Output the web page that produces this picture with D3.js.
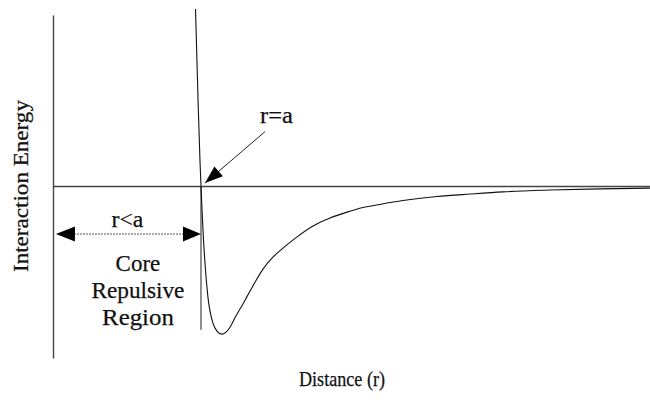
<!DOCTYPE html>
<html>
<head>
<meta charset="utf-8">
<script src="https://cdn.jsdelivr.net/npm/d3@7"></script>
<style>
  html, body { margin: 0; padding: 0; background: #fff; }
  svg { display: block; }
  svg text { font-family: "Liberation Serif", "Times New Roman", Times, serif !important; }
</style>
</head>
<body>
<svg id="chart" width="650" height="402"></svg>
<script>
// Distance r (in units of a) and interaction energy (in units of well depth)
const distance = [0.963, 0.980, 0.993, 1.000, 1.007, 1.017, 1.027, 1.047, 1.081, 1.108, 1.140,
  1.169, 1.196, 1.236, 1.275, 1.309, 1.365, 1.419, 1.486, 1.554, 1.647, 1.757, 1.872, 1.986,
  2.095, 2.209, 2.365, 2.595, 2.818, 3.041, 3.358, 3.696, 4.034];
const energy = [1.196, 0.581, 0.176, 0.000, -0.162, -0.365, -0.520, -0.750, -0.926, -0.980, -1.000,
  -0.986, -0.953, -0.878, -0.811, -0.750, -0.649, -0.561, -0.480, -0.419, -0.345, -0.270, -0.216, -0.176,
  -0.145, -0.124, -0.098, -0.071, -0.054, -0.039, -0.027, -0.019, -0.014];
const coreRadius = 1.0;       // r = a
const coreLabels = ["Core", "Repulsive", "Region"];
const xTitle = "Distance (r)";
const yTitle = "Interaction Energy";

const FONT = "Liberation Serif";
const svg = d3.select("#chart");
const x = d3.scaleLinear().domain([0, 4.034]).range([53, 650]);
const y = d3.scaleLinear().domain([-1.161, 1.155]).range([358, 15]);

// Left axis (no ticks)
const ya = svg.append("g").attr("transform", `translate(${x(0)},0)`)
  .call(d3.axisLeft(y).ticks(0).tickSizeOuter(0));
ya.select(".domain").attr("stroke", "#444").attr("stroke-width", 1.4);

// Zero line (no ticks)
const xa = svg.append("g").attr("transform", `translate(0,${y(0)})`)
  .call(d3.axisBottom(x).ticks(0).tickSizeOuter(0));
xa.select(".domain").attr("stroke", "#444").attr("stroke-width", 1.4);

// r = a vertical line
svg.append("line")
  .attr("x1", x(coreRadius)).attr("x2", x(coreRadius))
  .attr("y1", y(0)).attr("y2", y(-0.97))
  .attr("stroke", "#444").attr("stroke-width", 1.2);

// Potential curve
const pts = distance.map((d, i) => [d, energy[i]]);
svg.append("path")
  .datum(pts)
  .attr("fill", "none")
  .attr("stroke", "#111")
  .attr("stroke-width", 1.1)
  .attr("d", d3.line().x(d => x(d[0])).y(d => y(d[1])).curve(d3.curveMonotoneX));

// Arrowhead helper
function arrowHead(tx, ty, fx, fy, len, half) {
  const dx = tx - fx, dy = ty - fy, L = Math.hypot(dx, dy);
  const ux = dx / L, uy = dy / L;
  const bx = tx - ux * len, by = ty - uy * len;
  const px = -uy, py = ux;
  svg.append("path")
    .attr("d", `M${tx},${ty}L${bx + px * half},${by + py * half}L${bx - px * half},${by - py * half}Z`)
    .attr("fill", "#000");
}

function label(xp, yp, txt, size, len) {
  return svg.append("text").attr("x", xp).attr("y", yp)
    .attr("text-anchor", "middle")
    .attr("font-family", FONT).attr("font-size", size)
    .attr("fill", "#111").attr("stroke", "#111").attr("stroke-width", 0.25)
    .attr("textLength", len).attr("lengthAdjust", "spacingAndGlyphs").text(txt);
}

// r=a annotation
const aTip = [x(1.027), y(0.02)], aTail = [x(1.432), y(0.367)];
svg.append("line").attr("x1", aTail[0]).attr("y1", aTail[1])
  .attr("x2", aTip[0]).attr("y2", aTip[1]).attr("stroke", "#222").attr("stroke-width", 1);
arrowHead(aTip[0], aTip[1], aTail[0], aTail[1], 18, 6.5);
label(x(1.51), y(0.428), "r=a", 23, 33);

// r<a double arrow
const yArr = y(-0.324);
svg.append("line").attr("x1", x(0.02) + 15).attr("x2", x(coreRadius) - 15)
  .attr("y1", yArr).attr("y2", yArr)
  .attr("stroke", "#555").attr("stroke-width", 1).attr("stroke-dasharray", "2,1");
arrowHead(x(0.02), yArr, x(coreRadius), yArr, 19, 7.5);
arrowHead(x(coreRadius), yArr, x(0.02), yArr, 18, 7.5);
label(x(0.503), y(-0.275), "r<a", 23, 32);

// Core Repulsive Region
const coreBase = [-0.576, -0.757, -0.937];
const coreW = [44.7, 93, 71.7];
coreLabels.forEach((t, i) => label(x(0.574), y(coreBase[i]), t, 24, coreW[i]));

// Axis titles
label(342, 386, xTitle, 21, 86);
svg.append("text").attr("transform", `translate(28,${y(0)}) rotate(-90)`)
  .attr("text-anchor", "middle")
  .attr("font-family", FONT).attr("font-size", 21)
  .attr("fill", "#111").attr("stroke", "#111").attr("stroke-width", 0.25)
  .attr("textLength", 172).attr("lengthAdjust", "spacingAndGlyphs").text(yTitle);
</script>
</body>
</html>
